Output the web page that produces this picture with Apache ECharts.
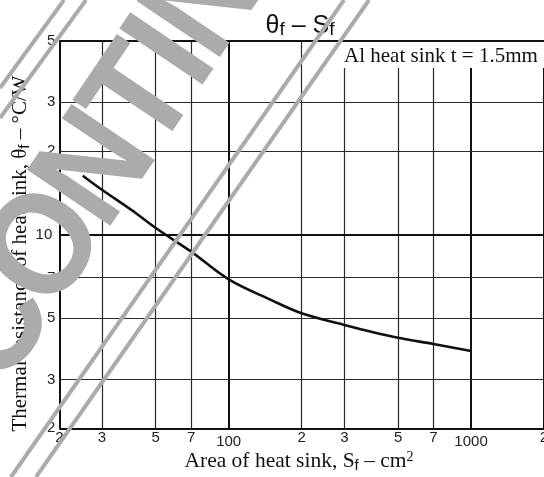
<!DOCTYPE html>
<html><head><meta charset="utf-8">
<script src="https://cdn.jsdelivr.net/npm/echarts@6/dist/echarts.min.js"></script>
<style>html,body{margin:0;padding:0;background:#fff}#c{width:544px;height:477px}</style>
</head><body><div id="c"></div>
<script>
// ---- data ----
const areaCm2 = [25, 30, 40, 50, 70, 100, 150, 200, 300, 500, 700, 1000];
const thetaF  = [16.3, 14.5, 12.2, 10.55, 8.67, 6.89, 5.8, 5.2, 4.72, 4.24, 4.03, 3.8];
const xTicks = [20, 30, 50, 70, 100, 200, 300, 500, 700, 1000, 2000];
const xTickLabels = ['2', '3', '5', '7', '100', '2', '3', '5', '7', '1000', '2'];
const yTicks = [2, 3, 5, 7, 10, 20, 30, 50];
const yTickLabels = ['2', '3', '5', '7', '10', '2', '3', '5'];
const titleParts = ['θ', 'f', ' – S', 'f'];
const xNameParts = ['Area of heat sink, S', 'f', ' – cm', '2'];
const yNameParts = ['Thermal resistance of heat sink, θ', 'f', ' – °C/W'];
const noteText = 'Al heat sink t = 1.5mm';
const watermarkLetters = ['S', 'C', 'O', 'N', 'T', 'I', 'N', 'U'];

const X_MIN = 20, X_MAX = 2000, Y_MIN = 2, Y_MAX = 50;
const isDecade = v => Math.abs(Math.log10(v) - Math.round(Math.log10(v))) < 1e-9;

const chart = echarts.init(document.getElementById('c'), null, {renderer: 'canvas'});

const gridLines = [];
xTicks.forEach((v, i) => {
  const edge = (v === X_MIN || v === X_MAX);
  const major = isDecade(v) || edge;
  gridLines.push({
    xAxis: v,
    label: {formatter: xTickLabels[i], distance: (isDecade(v) && !edge) ? 6 : 2},
    lineStyle: {width: major ? 2 : 1.2, color: major ? '#111' : '#2a2a2a'}
  });
});
yTicks.forEach((v, i) => {
  const edge = (v === Y_MIN || v === Y_MAX);
  const major = isDecade(v) || edge;
  gridLines.push({
    yAxis: v,
    label: {formatter: yTickLabels[i], distance: (isDecade(v) && !edge) ? 7 : 4},
    lineStyle: {width: major ? 2 : 1.2, color: major ? '#111' : '#2a2a2a'}
  });
});

const serif = '"Liberation Serif","Times New Roman",serif';
const sans = '"Liberation Sans",Arial,sans-serif';
const GRAY = '#ababab';

// watermark letters laid along a slanted baseline (decoration only)
const WM_SIZE = 135, WM_TRACK = 125;
const lineAng = 57 * Math.PI / 180, glyphAng = 56 * Math.PI / 180;
const bx = Math.cos(lineAng), by = -Math.sin(lineAng);
const adv = {S: .667, C: .722, O: .778, N: .722, T: .611, I: .278, U: .722};
const oIdx = watermarkLetters.indexOf('O');
const wmCenters = [];
(function () {
  const ox = 48, oy = 249; // centre of the "O"
  const offs = new Array(watermarkLetters.length).fill(0);
  for (let i = oIdx + 1; i < watermarkLetters.length; i++)
    offs[i] = offs[i - 1] + (adv[watermarkLetters[i - 1]] + adv[watermarkLetters[i]]) / 2 * WM_TRACK;
  for (let i = oIdx - 1; i >= 0; i--)
    offs[i] = offs[i + 1] - (adv[watermarkLetters[i + 1]] + adv[watermarkLetters[i]]) / 2 * WM_TRACK;
  offs.forEach(o => wmCenters.push([ox + o * bx, oy + o * by]));
})();
const wmGraphics = watermarkLetters.map((ch, i) => ({
  type: 'text', z: 100, silent: true, x: wmCenters[i][0], y: wmCenters[i][1],
  rotation: glyphAng, scaleY: 1.08,
  style: {text: ch, fontFamily: sans, fontWeight: 'bold', fontSize: WM_SIZE, fill: GRAY, align: 'center', verticalAlign: 'middle'}
}));

const option = {
  animation: false,
  backgroundColor: '#fff',
  grid: {left: 59.3, top: 40.7, width: 490.6, height: 387.6, containLabel: false},
  xAxis: {
    type: 'log', logBase: 10, min: X_MIN, max: X_MAX,
    axisLine: {show: false}, axisTick: {show: false}, axisLabel: {show: false},
    splitLine: {show: false}, minorTick: {show: false}, minorSplitLine: {show: false}
  },
  yAxis: {
    type: 'log', logBase: 10, min: Y_MIN, max: Y_MAX,
    axisLine: {show: false}, axisTick: {show: false}, axisLabel: {show: false},
    splitLine: {show: false}, minorTick: {show: false}, minorSplitLine: {show: false}
  },
  series: [
    {
      type: 'line', data: [[X_MIN, Y_MIN]], symbol: 'none', silent: true, z: 1,
      lineStyle: {opacity: 0},
      markLine: {
        silent: true, symbol: ['none', 'none'], animation: false,
        label: {show: true, position: 'start', color: '#222', fontFamily: sans, fontSize: 15},
        lineStyle: {type: 'solid', color: '#222', width: 1.2},
        emphasis: {disabled: true},
        data: gridLines
      }
    },
    {
      type: 'line', data: areaCm2.map((x, i) => [x, thetaF[i]]), smooth: 0.35,
      symbol: 'none', silent: true, z: 5,
      lineStyle: {color: '#111', width: 2.6}
    }
  ],
  graphic: [
    {type: 'rect', z: 50, shape: {x: 338, y: 42, width: 220, height: 26}, style: {fill: '#fff'}},
    {type: 'text', z: 51, x: 344, y: 56.2, style: {text: noteText, fontFamily: serif, fontSize: 21, fill: '#111', align: 'left', verticalAlign: 'middle'}},
    {type: 'text', z: 51, x: 300, y: 26.3, style: {
      text: '{m|' + titleParts[0] + '}{s|' + titleParts[1] + '}{m|' + titleParts[2] + '}{s|' + titleParts[3] + '}',
      align: 'center', verticalAlign: 'middle',
      rich: {m: {fontFamily: sans, fontSize: 25, lineHeight: 30, fill: '#111'},
             s: {fontFamily: sans, fontSize: 19, lineHeight: 22, padding: [6, 0, 0, 0], fill: '#111'}}
    }},
    {type: 'text', z: 51, x: 299, y: 460.9, style: {
      text: '{m|' + xNameParts[0] + '}{s|' + xNameParts[1] + '}{m|' + xNameParts[2] + '}{p|' + xNameParts[3] + '}',
      align: 'center', verticalAlign: 'middle',
      rich: {m: {fontFamily: serif, fontSize: 21.5, lineHeight: 26, fill: '#111'},
             s: {fontFamily: sans, fontSize: 15, lineHeight: 18, padding: [10, 0, 0, 0], fill: '#111'},
             p: {fontFamily: serif, fontSize: 14, lineHeight: 16, padding: [0, 0, 8, 0], fill: '#111'}}
    }},
    {type: 'text', z: 51, x: 20.2, y: 253.5, rotation: Math.PI / 2, style: {
      text: '{m|' + yNameParts[0] + '}{s|' + yNameParts[1] + '}{m|' + yNameParts[2] + '}',
      align: 'center', verticalAlign: 'middle',
      rich: {m: {fontFamily: serif, fontSize: 21, lineHeight: 26, fill: '#111'},
             s: {fontFamily: sans, fontSize: 15, lineHeight: 18, padding: [10, 0, 0, 0], fill: '#111'}}
    }}
  ].concat(wmGraphics).concat([
    {type: 'line', z: 100, silent: true, shape: {x1: 344, y1: 0, x2: 11, y2: 477}, style: {stroke: GRAY, lineWidth: 4}},
    {type: 'line', z: 100, silent: true, shape: {x1: 369, y1: 0, x2: 36, y2: 477}, style: {stroke: GRAY, lineWidth: 4}},
    {type: 'line', z: 100, silent: true, shape: {x1: 64, y1: 0, x2: 0, y2: 88}, style: {stroke: GRAY, lineWidth: 4}},
    {type: 'line', z: 100, silent: true, shape: {x1: 86, y1: 0, x2: 0, y2: 118}, style: {stroke: GRAY, lineWidth: 4}}
  ])
};
chart.setOption(option);
</script>
</body></html>
